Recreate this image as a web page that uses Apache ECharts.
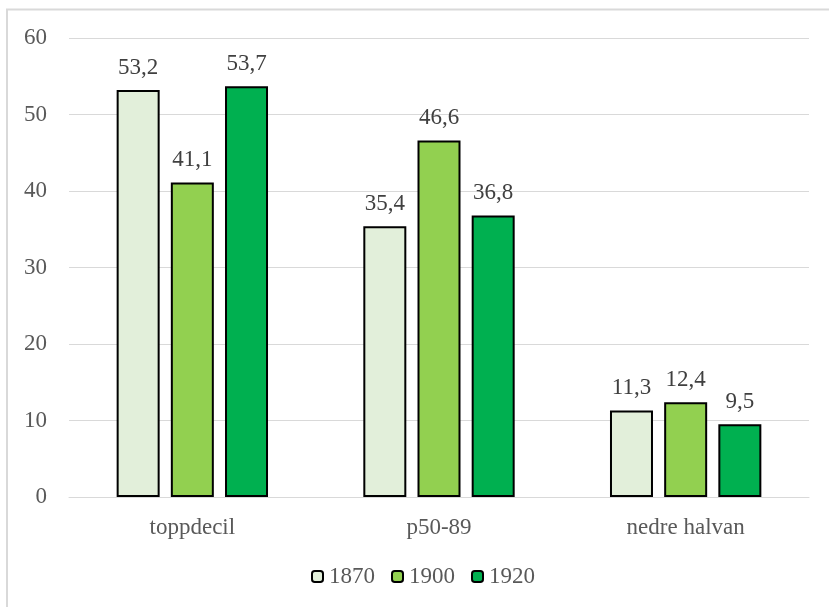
<!DOCTYPE html>
<html><head><meta charset="utf-8">
<script src="https://cdn.jsdelivr.net/npm/echarts@6/dist/echarts.min.js"></script>
<style>html,body{margin:0;padding:0;background:#fff}#c{width:829px;height:607px}</style>
</head><body><div id="c"></div>
<script>
const categories = ['toppdecil', 'p50-89', 'nedre halvan'];
const seriesNames = ['1870', '1900', '1920'];
const v1870 = [53.2, 35.4, 11.3];
const v1900 = [41.1, 46.6, 12.4];
const v1920 = [53.7, 36.8, 9.5];
const colors = ['#E2EFDA', '#92D050', '#00B050'];
const font = 'Liberation Serif';
const chart = echarts.init(document.getElementById('c'));
const data = [v1870, v1900, v1920];
chart.setOption({
  animation: false,
  textStyle: {fontFamily: font},
  graphic: [{type:'rect', shape:{x:7,y:9.5,width:900,height:700}, style:{fill:'none', stroke:'#d9d9d9', lineWidth:2}}],
  grid: {left: 69, right: 20, top: 38, bottom: 110},
  legend: {
    bottom: 14, left: 306, itemWidth: 11, itemHeight: 11, itemGap: 16,
    textStyle: {fontFamily: font, fontSize: 23, color: '#595959', padding: [0, 0, 0, 1]},
    data: seriesNames
  },
  xAxis: {
    type: 'category', data: categories,
    axisLine: {lineStyle: {color: '#d9d9d9'}}, axisTick: {show: false},
    axisLabel: {fontFamily: font, fontSize: 23, color: '#595959', margin: 19}
  },
  yAxis: {
    type: 'value', min: 0, max: 60, interval: 10,
    axisLabel: {fontFamily: font, fontSize: 23, color: '#595959', margin: 22},
    splitLine: {lineStyle: {color: '#d9d9d9', width: 1}}
  },
  series: seriesNames.map((n, i) => ({
    name: n, type: 'bar', data: data[i], barWidth: 43, barGap: '26%',
    itemStyle: {color: colors[i], borderColor: '#000', borderWidth: 2},
    label: {show: true, position: 'top', distance: 11, fontFamily: font, fontSize: 23, color: '#404040',
      formatter: p => String(p.value).replace('.', ',')}
  }))
});
</script></body></html>
